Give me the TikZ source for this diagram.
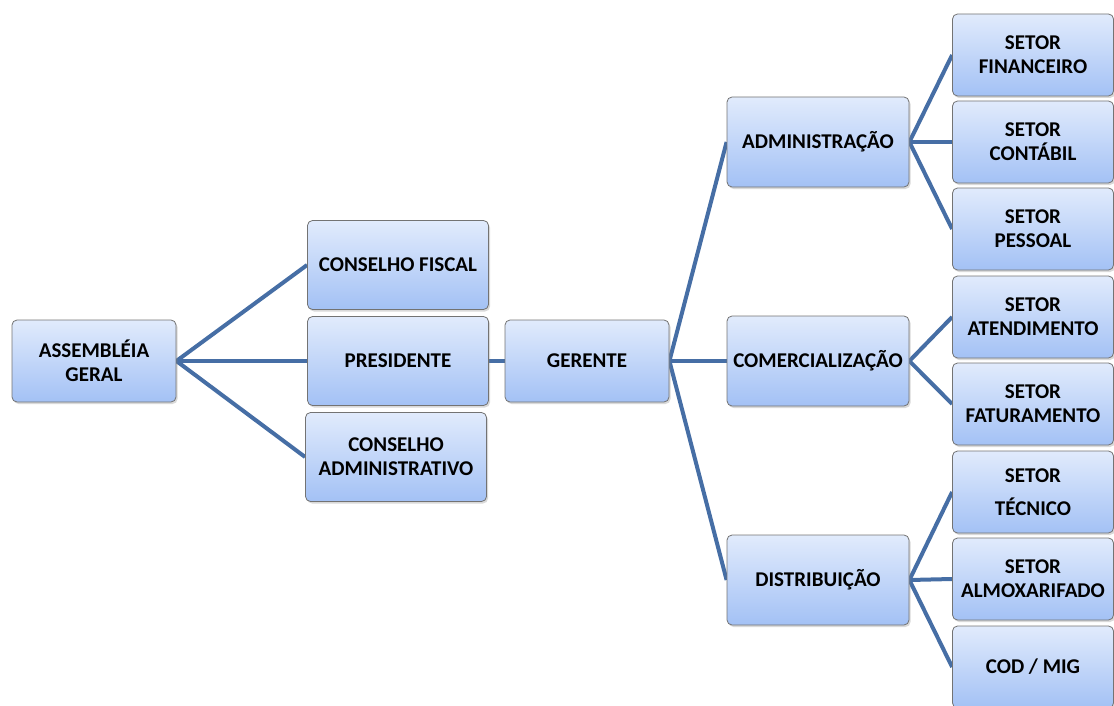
\documentclass[tikz,border=0pt]{standalone}
\usepackage{fontspec}
\setmainfont{Carlito}
\usepackage{tikz}
\usetikzlibrary{positioning,shadows,backgrounds}
\definecolor{linkblue}{RGB}{70,110,165}
\definecolor{boxtop}{RGB}{225,235,252}
\definecolor{boxbottom}{RGB}{163,193,245}
\definecolor{boxline}{RGB}{115,115,115}

\begin{document}
\begin{tikzpicture}[
  x=1pt, y=-1pt,
  orgbox/.style={rectangle,rounded corners=5pt,draw=boxline,line width=0.8pt,
    top color=boxtop,bottom color=boxbottom,align=center,inner sep=2pt,
    drop shadow={opacity=0.3,shadow xshift=1.5pt,shadow yshift=-2pt},
    font=\bfseries\fontsize{21}{24}\selectfont},
  topbox/.style={orgbox,minimum width=164pt,minimum height=82pt},
  midbox/.style={orgbox,minimum width=181pt,minimum height=89pt},
  deptbox/.style={orgbox,minimum width=182pt,minimum height=90pt},
  setorbox/.style={orgbox,minimum width=161pt,minimum height=82pt},
  link/.style={draw=linkblue,line width=4pt}
]
\useasboundingbox (0,0) rectangle (1114,706);

% Top of the chart
\node[topbox] (ag) at (94,361) {ASSEMBLÉIA\\GERAL};
\node[midbox] (cf) at (398,265) {CONSELHO FISCAL};
\node[midbox] (pres) at (398,361) {PRESIDENTE};
\node[midbox] (cadm) at (396,457) {CONSELHO\\ADMINISTRATIVO};
\node[topbox] (ger) at (587,361) {GERENTE};

% Departments
\node[deptbox] (adm) at (818,142) {ADMINISTRAÇÃO};
\node[deptbox] (com) at (818,361) {COMERCIALIZAÇÃO};
\node[deptbox] (dist) at (818,580) {DISTRIBUIÇÃO};

% Sectors
\node[setorbox] (fin) at (1033,55) {SETOR\\FINANCEIRO};
\node[setorbox] (cont) at (1033,142) {SETOR\\CONTÁBIL};
\node[setorbox] (pess) at (1033,229) {SETOR\\PESSOAL};
\node[setorbox] (atend) at (1033,317) {SETOR\\ATENDIMENTO};
\node[setorbox] (fat) at (1033,404) {SETOR\\FATURAMENTO};
\node[setorbox] (tec) at (1033,492) {SETOR\\[9pt]TÉCNICO};
\node[setorbox] (almox) at (1033,579) {SETOR\\ALMOXARIFADO};
\node[setorbox] (cod) at (1033,667) {COD / MIG};

% Links
\begin{scope}[on background layer]
  \foreach \c in {cf,pres,cadm}
    \draw[link] (ag.east) -- (\c.west);
  \draw[link] (pres.east) -- (ger.west);
  \foreach \c in {adm,com,dist}
    \draw[link] (ger.east) -- (\c.west);
  \foreach \c in {fin,cont,pess}
    \draw[link] (adm.east) -- (\c.west);
  \foreach \c in {atend,fat}
    \draw[link] (com.east) -- (\c.west);
  \foreach \c in {tec,almox,cod}
    \draw[link] (dist.east) -- (\c.west);
\end{scope}

\end{tikzpicture}
\end{document}
